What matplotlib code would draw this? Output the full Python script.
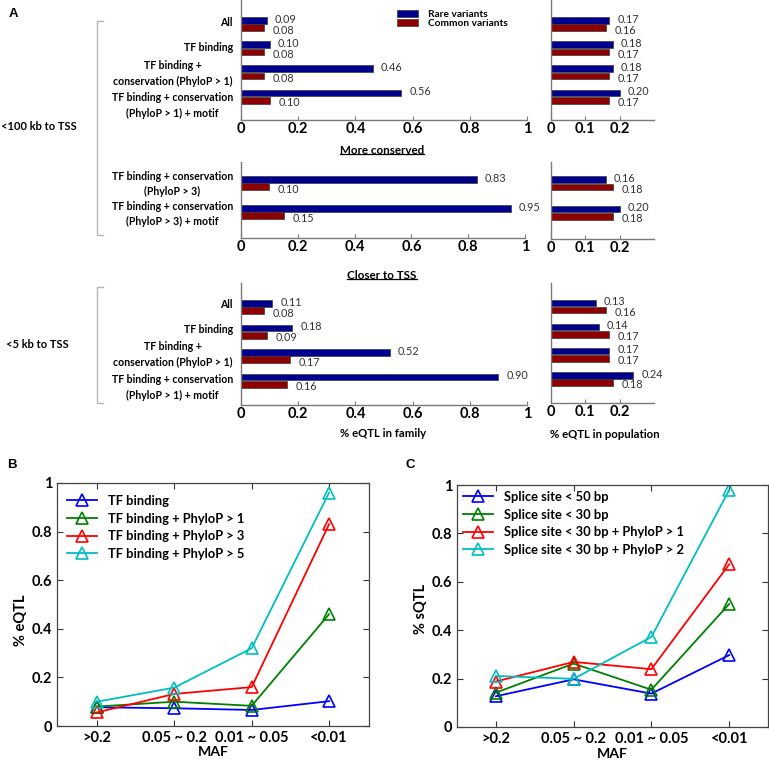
import matplotlib
matplotlib.use('Agg')
import matplotlib.pyplot as plt
from matplotlib.lines import Line2D
from matplotlib.patches import Patch
import numpy as np

plt.rcParams['font.family'] = ['Lato', 'DejaVu Sans']

W, H = 769, 760
fig = plt.figure(figsize=(W / 100, H / 100), dpi=100)

# ---------------- data ----------------
top_categories = ["All", "TF binding", "TF binding +\nconservation (PhyloP > 1)",
                  "TF binding + conservation\n(PhyloP > 1) + motif"]
top_family_rare = [0.09, 0.10, 0.46, 0.56]
top_family_common = [0.08, 0.08, 0.08, 0.10]
top_pop_rare = [0.17, 0.18, 0.18, 0.20]
top_pop_common = [0.16, 0.17, 0.17, 0.17]

mid_categories = ["TF binding + conservation\n(PhyloP > 3)",
                  "TF binding + conservation\n(PhyloP > 3) + motif"]
mid_family_rare = [0.83, 0.95]
mid_family_common = [0.10, 0.15]
mid_pop_rare = [0.16, 0.20]
mid_pop_common = [0.18, 0.18]

bot_categories = ["All", "TF binding", "TF binding +\nconservation (PhyloP > 1)",
                  "TF binding + conservation\n(PhyloP > 1) + motif"]
bot_family_rare = [0.11, 0.18, 0.52, 0.90]
bot_family_common = [0.08, 0.09, 0.17, 0.16]
bot_pop_rare = [0.13, 0.14, 0.17, 0.24]
bot_pop_common = [0.16, 0.17, 0.17, 0.18]

legend_a = ["Rare variants", "Common variants"]

maf_labels = [">0.2", "0.05 ~ 0.2", "0.01 ~ 0.05", "<0.01"]
b_names = ["TF binding", "TF binding + PhyloP > 1", "TF binding + PhyloP > 3",
           "TF binding + PhyloP > 5"]
b_tf = [0.077, 0.073, 0.066, 0.102]
b_p1 = [0.080, 0.100, 0.083, 0.460]
b_p3 = [0.056, 0.132, 0.160, 0.830]
b_p5 = [0.100, 0.158, 0.320, 0.960]

c_names = ["Splice site < 50 bp", "Splice site < 30 bp",
           "Splice site < 30 bp + PhyloP > 1", "Splice site < 30 bp + PhyloP > 2"]
c_50 = [0.127, 0.197, 0.138, 0.297]
c_30 = [0.142, 0.262, 0.154, 0.508]
c_30p1 = [0.188, 0.269, 0.239, 0.672]
c_30p2 = [0.211, 0.199, 0.372, 0.979]

# ---------------- styles ----------------
RARE = '#00008f'
COMMON = '#8c0000'
EDGE = '#3a3a3a'
SPINE = '#7a7a7a'
VAL = '#333333'
LINE_COLORS = ['#0000ff', '#008000', '#ff0000', '#00bfbf']


def add_ax(l, t, r, b):
    return fig.add_axes([l / W, 1 - b / H, (r - l) / W, (b - t) / H])


def fpx(x, y):
    return x / W, 1 - y / H


def bar_panel(ax, rare, common, xmax, ticks, ticklabels, row, cats=None, cat_dy=None):
    top, bot, c0, ppu = row
    n = len(rare)
    y = np.arange(n)
    off = 3.7 / ppu
    h = 6.6 / ppu
    ax.barh(y - off, rare, height=h, color=RARE, edgecolor=EDGE, linewidth=0.5)
    ax.barh(y + off, common, height=h, color=COMMON, edgecolor=EDGE, linewidth=0.5)
    ax.set_ylim((bot - c0) / ppu, -(c0 - top) / ppu)
    ax.set_xlim(0, xmax)
    for i in range(n):
        ax.annotate(f"{rare[i]:.2f}", xy=(rare[i], y[i] - off), xytext=(5.8, 0.9),
                    textcoords='offset points', ha='left', va='center', fontsize=7.8, color=VAL)
        ax.annotate(f"{common[i]:.2f}", xy=(common[i], y[i] + off), xytext=(6.2, -1.7),
                    textcoords='offset points', ha='left', va='center', fontsize=7.8, color=VAL)
    ax.set_yticks([])
    ax.set_xticks(ticks, ticklabels)
    for s in ['top', 'right']:
        ax.spines[s].set_visible(False)
    for s in ['left', 'bottom']:
        ax.spines[s].set_color(SPINE)
        ax.spines[s].set_linewidth(1.0)
    ax.tick_params(axis='x', direction='in', length=3, color=SPINE, pad=1.5, labelsize=10.5)
    for lab in ax.get_xticklabels():
        lab.set_fontweight('bold')
    ax.patch.set_alpha(0)
    if cats is not None:
        for i, (c, dy) in enumerate(zip(cats, cat_dy)):
            ax.annotate(c, xy=(0, y[i]), xycoords=('axes fraction', 'data'),
                        xytext=(-5.8, -dy * 0.72), textcoords='offset points',
                        ha='right', va='center', multialignment='center',
                        fontsize=7.6, fontweight='bold', linespacing=1.55)


# rows: (top px, bottom px, first-group center px, px per group)
ROW_TOP = (-2, 120, 24, 24.2)
ROW_MID = (162, 238, 183, 29)
ROW_BOT = (283, 405, 307, 24.5)

FX0, FX1 = 241, 527
PX0, PX1 = 551, 654
fam_ticks = [0, 0.2, 0.4, 0.6, 0.8, 1]
fam_labels = ['0', '0.2', '0.4', '0.6', '0.8', '1']
pop_ticks = [0, 0.1, 0.2]
pop_labels = ['0', '0.1', '0.2']

ax = add_ax(FX0, ROW_TOP[0], FX1, ROW_TOP[1])
bar_panel(ax, top_family_rare, top_family_common, 1, fam_ticks, fam_labels, ROW_TOP,
          top_categories, [-2, -1, 1, 9])
ax = add_ax(PX0, ROW_TOP[0], PX1, ROW_TOP[1])
bar_panel(ax, top_pop_rare, top_pop_common, 0.3, pop_ticks, pop_labels, ROW_TOP)

ax = add_ax(FX0, ROW_MID[0], FX1 - 2, ROW_MID[1])
bar_panel(ax, mid_family_rare, mid_family_common, 1, fam_ticks, fam_labels, ROW_MID,
          mid_categories, [1, 2])
ax = add_ax(PX0, ROW_MID[0], PX1, ROW_MID[1] + 1)
bar_panel(ax, mid_pop_rare, mid_pop_common, 0.3, pop_ticks, pop_labels, ROW_MID)

ax = add_ax(FX0, ROW_BOT[0], FX1, ROW_BOT[1])
bar_panel(ax, bot_family_rare, bot_family_common, 1, fam_ticks, fam_labels, ROW_BOT,
          bot_categories, [-3, -2.5, -1.5, 7])
ax = add_ax(PX0, ROW_BOT[0], PX1, ROW_BOT[1] - 2)
bar_panel(ax, bot_pop_rare, bot_pop_common, 0.3, pop_ticks, pop_labels, ROW_BOT)

# legend panel A
handles = [Patch(facecolor=RARE, edgecolor=EDGE, linewidth=0.5),
           Patch(facecolor=COMMON, edgecolor=EDGE, linewidth=0.5)]
fig.legend(handles, legend_a, loc='upper left', bbox_to_anchor=fpx(397, 10),
           frameon=False, borderpad=0, borderaxespad=0, handlelength=2.1,
           handleheight=0.62, handletextpad=0.95, labelspacing=0.0,
           prop={'weight': 'bold', 'size': 7.3})

# texts panel A
fig.text(*fpx(39, 126), "<100 kb to TSS", ha='center', va='center', fontsize=8, fontweight='bold')
fig.text(*fpx(37, 345), "<5 kb to TSS", ha='center', va='center', fontsize=8, fontweight='bold')
t1 = fig.text(*fpx(382, 150), "More conserved", ha='center', va='center', fontsize=8.4, fontweight='bold')
t2 = fig.text(*fpx(382, 275), "Closer to TSS", ha='center', va='center', fontsize=8.4, fontweight='bold')
fig.text(*fpx(383, 433), "% eQTL in family", ha='center', va='center', fontsize=8.2, fontweight='bold')
fig.text(*fpx(605, 435), "% eQTL in population", ha='center', va='center', fontsize=8.2, fontweight='bold')

# brackets
BR = '#b5b5b5'
for (y0, y1) in [(21, 235), (287, 403)]:
    xs = [103, 97, 97, 103]
    ys = [y0, y0, y1, y1]
    fig.add_artist(Line2D([x / W for x in xs], [1 - v / H for v in ys], color=BR, lw=1.0))

# panel letters
for letter, (x, y) in zip("ABC", [(13, 14), (12, 465), (410, 465)]):
    fig.text(*fpx(x, y), letter, ha='center', va='center', fontsize=9.5, fontweight='bold',
             family=['Liberation Sans', 'DejaVu Sans'])


# ---------------- panels B and C ----------------
def line_panel(ax, series, names, ylabel, label_y, xl, xr, leg_anchor):
    x = np.arange(len(maf_labels))
    for vals, name, c in zip(series, names, LINE_COLORS):
        ax.plot(x, vals, color=c, lw=1.3, marker='^', ms=9, mfc='none', mec=c, mew=1.2, label=name)
    ax.set_xlim(xl, xr)
    ax.set_ylim(0, 1)
    ax.set_xticks(x, maf_labels)
    ax.set_yticks([0, 0.2, 0.4, 0.6, 0.8, 1], ['0', '0.2', '0.4', '0.6', '0.8', '1'])
    ax.tick_params(direction='in', top=True, right=True, length=4, width=0.8,
                   labelsize=10.5, pad=3.5, color='#333333')
    for lab in ax.get_xticklabels() + ax.get_yticklabels():
        lab.set_fontweight('bold')
    for s in ax.spines.values():
        s.set_color('#444444')
        s.set_linewidth(0.9)
    ax.set_xlabel('MAF', fontsize=10.2, fontweight='bold')
    h_px = ax.get_position().height * H
    ax.xaxis.set_label_coords(0.5, -20.5 / h_px)
    ax.set_ylabel(ylabel, fontsize=10.5, fontweight='bold')
    ax.yaxis.set_label_coords(-0.093, label_y)
    ax.legend(loc='upper left', bbox_to_anchor=fpx(*leg_anchor), bbox_transform=fig.transFigure,
              frameon=False, borderpad=0, borderaxespad=0, handlelength=2.33,
              handletextpad=0.85, labelspacing=0.43, prop={'weight': 'bold', 'size': 9.3})


axB = add_ax(57, 483, 369, 726)
line_panel(axB, [b_tf, b_p1, b_p3, b_p5], b_names, '% eQTL', 0.437, -0.517, 3.517, (67, 495))
axC = add_ax(457, 485, 768, 727)
line_panel(axC, [c_50, c_30, c_30p1, c_30p2], c_names, '% sQTL', 0.487, -0.50, 3.50, (463, 491))

# underline for sub-titles
fig.canvas.draw()
r = fig.canvas.get_renderer()
for t in (t1, t2):
    bb = t.get_window_extent(r)
    yline = bb.y0 + 1.5
    fig.add_artist(Line2D([bb.x0 / W, bb.x1 / W], [yline / H, yline / H], color='black', lw=0.9))

fig.savefig('out.png', dpi=100)
